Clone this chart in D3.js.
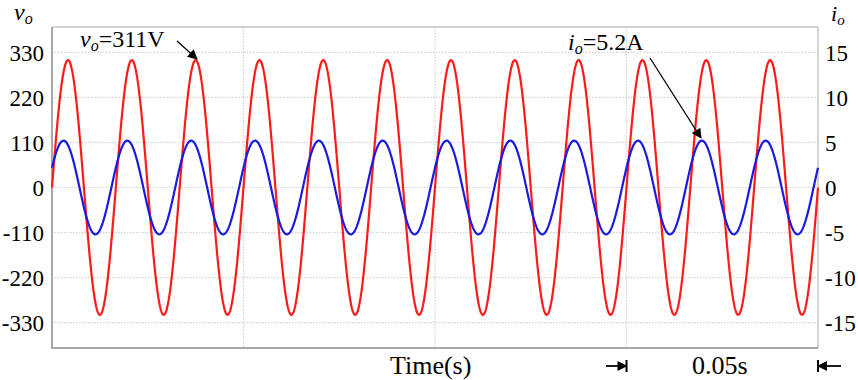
<!DOCTYPE html>
<html><head><meta charset="utf-8">
<script src="https://cdn.jsdelivr.net/npm/d3@7"></script>
<style>
html,body{margin:0;padding:0;background:#fff;}
svg{display:block;}
text{font-family:"Liberation Serif","Times New Roman",serif;fill:#000;}
</style></head>
<body>
<svg id="chart" width="858" height="380"></svg>
<script>
// ---- data ----
const voltTicks = [330, 220, 110, 0, -110, -220, -330];
const currTicks = [15, 10, 5, 0, -5, -10, -15];
const timeGrid = [0.05, 0.10, 0.15];
const timeSpan = [0, 0.2];            // seconds shown (4 x 0.05s)
const seriesNames = ["vo", "io"];
const seriesAmplitude = [311, 5.2];    // V, A
const seriesFrequency = [60, 60];      // Hz (12 cycles in 0.2 s)
const seriesPhaseDeg = [0, 25];        // current leads voltage
const seriesColors = ["#ff1a1a", "#1a1ae0"];

const svg = d3.select("#chart");
const L = 52, R = 818, T = 27, B = 348;

const x = d3.scaleLinear().domain(timeSpan).range([L, R]);
const yV = d3.scaleLinear().domain([-392, 392]).range([B, T]);
const yI = d3.scaleLinear().domain([-392/22, 392/22]).range([B, T]);

// grid
const grid = svg.append("g");
grid.selectAll("line.h").data(voltTicks).enter().append("line")
  .attr("x1", L).attr("x2", R)
  .attr("y1", d => yV(d)).attr("y2", d => yV(d))
  .attr("stroke", "#d4d4d4").attr("stroke-width", 1.2).attr("stroke-dasharray", "1.5,1.5");
grid.selectAll("line.v").data(timeGrid).enter().append("line")
  .attr("y1", T).attr("y2", B)
  .attr("x1", d => x(d)).attr("x2", d => x(d))
  .attr("stroke", "#d4d4d4").attr("stroke-width", 1.2).attr("stroke-dasharray", "1.5,1.5");

// frame
svg.append("line").attr("x1", L).attr("x2", R).attr("y1", T).attr("y2", T).attr("stroke", "#c4c4c4").attr("stroke-width", 1.5);
svg.append("line").attr("x1", R).attr("x2", R).attr("y1", T).attr("y2", B).attr("stroke", "#c4c4c4").attr("stroke-width", 1.5);
svg.append("line").attr("x1", L).attr("x2", L).attr("y1", T).attr("y2", B+1).attr("stroke", "#a8a8a8").attr("stroke-width", 2);
svg.append("line").attr("x1", L).attr("x2", R).attr("y1", B).attr("y2", B).attr("stroke", "#a8a8a8").attr("stroke-width", 2);

// series
const N = 1600;
const times = d3.range(N + 1).map(i => timeSpan[0] + (timeSpan[1] - timeSpan[0]) * i / N);
const ys = [yV, yI];
seriesNames.forEach((name, k) => {
  const pts = times.map(t => [t, seriesAmplitude[k] * Math.sin(2 * Math.PI * seriesFrequency[k] * t + seriesPhaseDeg[k] * Math.PI / 180)]);
  const line = d3.line().x(d => x(d[0])).y(d => ys[k](d[1])).curve(d3.curveLinear);
  svg.append("path").datum(pts).attr("d", line)
    .attr("fill", "none").attr("stroke", seriesColors[k]).attr("stroke-width", 2.2);
});

// axes (labels only)
const fmt = d => String(d);
const axL = d3.axisLeft(yV).tickValues(voltTicks).tickFormat(fmt).tickSize(0).tickPadding(0);
const gL = svg.append("g").attr("transform", `translate(${L - 8},0)`).call(axL);
gL.select(".domain").remove();
gL.selectAll("text").attr("font-size", 23).attr("font-family", "Liberation Serif").attr("fill", "#000").attr("dy", "0.35em");

const axR = d3.axisRight(yI).tickValues(currTicks).tickFormat(fmt).tickSize(0).tickPadding(0);
const gR = svg.append("g").attr("transform", `translate(${R + 7},0)`).call(axR);
gR.select(".domain").remove();
gR.selectAll("text").attr("font-size", 23).attr("font-family", "Liberation Serif").attr("fill", "#000").attr("dy", "0.35em");

// axis titles
const tv = svg.append("text").attr("x", 14).attr("y", 20).attr("font-size", 24).attr("font-style", "italic");
tv.append("tspan").text("v");
tv.append("tspan").attr("font-size", 16).attr("dy", 4).text("o");
const ti = svg.append("text").attr("x", 831).attr("y", 21).attr("font-size", 22).attr("font-style", "italic");
ti.append("tspan").text("i");
ti.append("tspan").attr("font-size", 15).attr("dy", 4).text("o");

// arrow marker
svg.append("defs").append("marker").attr("id", "ah").attr("viewBox", "0 0 10 10")
  .attr("refX", 9).attr("refY", 5).attr("markerWidth", 12).attr("markerHeight", 10)
  .attr("markerUnits", "userSpaceOnUse").attr("orient", "auto")
  .append("path").attr("d", "M0,0 L10,5 L0,10 z").attr("fill", "#000");

// annotations
const a1 = svg.append("text").attr("x", 80).attr("y", 47).attr("font-size", 24);
a1.append("tspan").attr("font-style", "italic").text("v");
a1.append("tspan").attr("font-style", "italic").attr("font-size", 16).attr("dy", 4).text("o");
a1.append("tspan").attr("dy", -4).text("=311V");
svg.append("line").attr("x1", 177).attr("y1", 41).attr("x2", 197).attr("y2", 59)
  .attr("stroke", "#000").attr("stroke-width", 1.3).attr("marker-end", "url(#ah)");

const a2 = svg.append("text").attr("x", 568).attr("y", 50).attr("font-size", 24);
a2.append("tspan").attr("font-style", "italic").text("i");
a2.append("tspan").attr("font-style", "italic").attr("font-size", 16).attr("dy", 4).text("o");
a2.append("tspan").attr("dy", -4).text("=5.2A");
svg.append("line").attr("x1", 650).attr("y1", 58).attr("x2", 701).attr("y2", 138)
  .attr("stroke", "#000").attr("stroke-width", 1.3).attr("marker-end", "url(#ah)");

// x label and scale bar
svg.append("text").attr("x", 390).attr("y", 374).attr("font-size", 26).text("Time(s)");
svg.append("text").attr("x", 692).attr("y", 374).attr("font-size", 26).text("0.05s");
const sbY = 366;
svg.append("line").attr("x1", 606).attr("x2", x(0.15)).attr("y1", sbY).attr("y2", sbY)
  .attr("stroke", "#000").attr("stroke-width", 1.8).attr("marker-end", "url(#ah)");
svg.append("line").attr("x1", x(0.15)).attr("x2", x(0.15)).attr("y1", sbY - 6).attr("y2", sbY + 6)
  .attr("stroke", "#000").attr("stroke-width", 2);
svg.append("line").attr("x1", 841).attr("x2", x(0.2)).attr("y1", sbY).attr("y2", sbY)
  .attr("stroke", "#000").attr("stroke-width", 1.8).attr("marker-end", "url(#ah)");
svg.append("line").attr("x1", x(0.2)).attr("x2", x(0.2)).attr("y1", sbY - 6).attr("y2", sbY + 6)
  .attr("stroke", "#000").attr("stroke-width", 2);
</script>
</body></html>
